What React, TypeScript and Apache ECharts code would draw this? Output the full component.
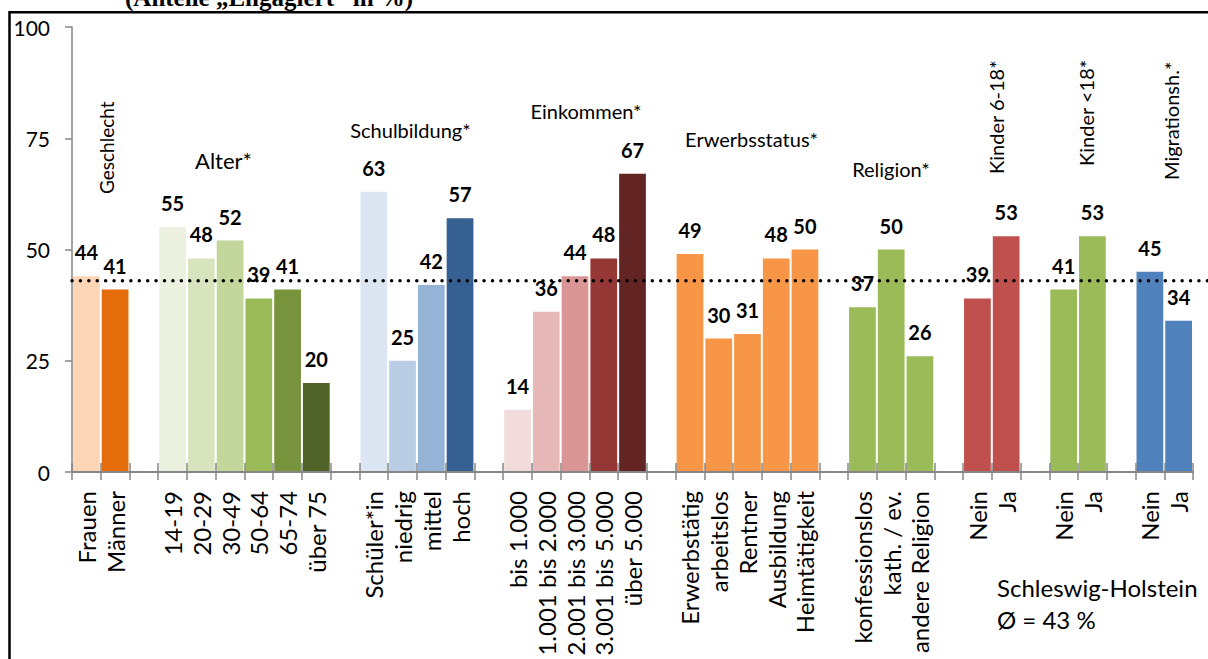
import React, { useEffect, useRef } from "react";
import * as echarts from "echarts";

// Engagement shares (%) by population group, Schleswig-Holstein
const geschlecht = ["Frauen", "Männer"];
const geschlechtWerte = [44, 41];
const alter = ["14-19", "20-29", "30-49", "50-64", "65-74", "über 75"];
const alterWerte = [55, 48, 52, 39, 41, 20];
const schulbildung = ["Schüler*in", "niedrig", "mittel", "hoch"];
const schulbildungWerte = [63, 25, 42, 57];
const einkommen = ["bis 1.000", "1.001 bis 2.000", "2.001 bis 3.000", "3.001 bis 5.000", "über 5.000"];
const einkommenWerte = [14, 36, 44, 48, 67];
const erwerbsstatus = ["Erwerbstätig", "arbeitslos", "Rentner", "Ausbildung", "Heimtätigkeit"];
const erwerbsstatusWerte = [49, 30, 31, 48, 50];
const religion = ["konfessionslos", "kath. / ev.", "andere Religion"];
const religionWerte = [37, 50, 26];
const kinder618 = ["Nein", "Ja"];
const kinder618Werte = [39, 53];
const kinderU18 = ["Nein", "Ja"];
const kinderU18Werte = [41, 53];
const migration = ["Nein", "Ja"];
const migrationWerte = [45, 34];
const durchschnitt = 43;
const yTicks = [0, 25, 50, 75, 100];

// colours per group
const geschlechtFarben = ["#FBD5B5", "#E46C0A"];
const alterFarben = ["#EBF1DE", "#D7E4BD", "#C3D69B", "#9BBB59", "#77933C", "#4F6228"];
const schulbildungFarben = ["#DCE6F2", "#B9CDE5", "#95B3D7", "#376092"];
const einkommenFarben = ["#F2DCDB", "#E6B9B8", "#D99694", "#953735", "#632523"];
const erwerbsstatusFarben = ["#F79646", "#F79646", "#F79646", "#F79646", "#F79646"];
const religionFarben = ["#9BBB59", "#9BBB59", "#9BBB59"];
const kinder618Farben = ["#C0504D", "#C0504D"];
const kinderU18Farben = ["#9BBB59", "#9BBB59"];
const migrationFarben = ["#4F81BD", "#4F81BD"];

const FONT = "Lato";

const blocks: [string[], number[], string[]][] = [
  [geschlecht, geschlechtWerte, geschlechtFarben],
  [alter, alterWerte, alterFarben],
  [schulbildung, schulbildungWerte, schulbildungFarben],
  [einkommen, einkommenWerte, einkommenFarben],
  [erwerbsstatus, erwerbsstatusWerte, erwerbsstatusFarben],
  [religion, religionWerte, religionFarben],
  [kinder618, kinder618Werte, kinder618Farben],
  [kinderU18, kinderU18Werte, kinderU18Farben],
  [migration, migrationWerte, migrationFarben],
];

// one empty slot between groups
const categories: string[] = [];
const barData: any[] = [];
blocks.forEach(([labels, values, colors], bi) => {
  if (bi > 0) {
    categories.push("");
    barData.push(null);
  }
  labels.forEach((l, i) => {
    categories.push(l);
    barData.push({ value: values[i], itemStyle: { color: colors[i] } });
  });
});

const groupText = (text: string, x: number, y: number, size = 20) => ({
  type: "text",
  x,
  y,
  silent: true,
  style: { text, fill: "#000", font: `${size}px ${FONT}`, align: "center", verticalAlign: "middle" },
});

const groupTextV = (text: string, x: number, y: number, size = 20) => ({
  type: "text",
  x,
  y,
  rotation: Math.PI / 2,
  silent: true,
  style: { text, fill: "#000", font: `${size}px ${FONT}`, align: "left", verticalAlign: "middle" },
});

export default function App() {
  const ref = useRef<HTMLDivElement>(null);
  useEffect(() => {
    if (!ref.current) return;
    const chart = echarts.init(ref.current, null, { renderer: "svg" });
    const axisGray = "#868686";
    chart.setOption({
      animation: false,
      backgroundColor: "#fff",
      textStyle: { fontFamily: FONT },
      grid: [
        { left: 72, right: 15, top: 27, bottom: 187, outerBoundsMode: "none", containLabel: false },
        { left: 72, right: 0, top: 27, bottom: 187, outerBoundsMode: "none", containLabel: false },
      ],
      xAxis: [
        {
          type: "category",
          gridIndex: 0,
          position: "bottom",
          data: categories,
          boundaryGap: true,
          z: 3,
          axisLine: { show: true, lineStyle: { color: axisGray, width: 2 } },
          axisTick: { show: true, interval: 0, length: 8, lineStyle: { color: axisGray, width: 1.5 } },
          axisLabel: {
            interval: 0,
            rotate: 90,
            margin: 19,
            fontSize: 24,
            fontFamily: FONT,
            color: "#000",
          },
          splitLine: { show: false },
        },
        {
          type: "category",
          gridIndex: 0,
          position: "bottom",
          data: categories,
          boundaryGap: true,
          z: 3,
          axisLine: { show: false },
          axisTick: { show: true, inside: true, interval: 0, length: 9, lineStyle: { color: axisGray, width: 1.5 } },
          axisLabel: { show: false },
          splitLine: { show: false },
        },
        { type: "value", gridIndex: 1, min: 0, max: 1, show: false },
      ],
      yAxis: [
        {
          type: "value",
          gridIndex: 0,
          min: yTicks[0],
          max: yTicks[yTicks.length - 1],
          interval: 25,
          axisLine: { show: true, lineStyle: { color: axisGray, width: 1.5 } },
          axisTick: { show: true, length: 7, lineStyle: { color: axisGray, width: 1.5 } },
          axisLabel: { fontSize: 21, fontFamily: FONT, color: "#000", margin: 22 },
          splitLine: { show: false },
        },
        { type: "value", gridIndex: 1, min: 0, max: 100, show: false },
      ],
      series: [
        {
          type: "bar",
          xAxisIndex: 0,
          yAxisIndex: 0,
          data: barData,
          barCategoryGap: "7%",
          label: {
            show: true,
            position: "top",
            distance: 14,
            fontSize: 20,
            fontWeight: "bold",
            fontFamily: FONT,
            color: "#000",
          },
        },
        {
          type: "line",
          xAxisIndex: 2,
          yAxisIndex: 1,
          data: [
            [0, durchschnitt],
            [1, durchschnitt],
          ],
          symbol: "none",
          silent: true,
          z: 5,
          lineStyle: { color: "#000", width: 3.5, type: [0.01, 8.4], cap: "round" },
        },
      ],
      graphic: [
        {
          type: "rect",
          silent: true,
          shape: { x: 9.5, y: 12.3, width: 1400, height: 900 },
          style: { fill: "none", stroke: "#000", lineWidth: 2.5 },
        },
        {
          type: "text",
          x: 125,
          y: -3,
          silent: true,
          style: {
            text: "(Anteile „Engagiert“ in %)",
            fill: "#000",
            font: "bold 25px 'Liberation Serif'",
            align: "left",
            verticalAlign: "middle",
          },
        },
        groupTextV("Geschlecht", 106, 194, 19),
        groupText("Alter*", 223.5, 160, 22),
        groupText("Schulbildung*", 410.5, 130),
        groupText("Einkommen*", 586, 110.5),
        groupText("Erwerbsstatus*", 751.5, 139),
        groupText("Religion*", 891, 169),
        groupTextV("Kinder 6-18*", 996, 174),
        groupTextV("Kinder <18*", 1086, 166),
        groupTextV("Migrationsh.*", 1171, 180),
        {
          type: "text",
          x: 997,
          y: 587.5,
          silent: true,
          style: { text: "Schleswig-Holstein", fill: "#000", font: `24px ${FONT}`, align: "left", verticalAlign: "middle" },
        },
        {
          type: "text",
          x: 997,
          y: 619.5,
          silent: true,
          style: { text: `Ø = ${durchschnitt} %`, fill: "#000", font: `24px ${FONT}`, align: "left", verticalAlign: "middle" },
        },
      ],
    });
    return () => chart.dispose();
  }, []);
  return (
    <div
      ref={ref}
      style={{ position: "fixed", left: 0, top: 0, width: 1208, height: 659, background: "#fff" }}
    />
  );
}
